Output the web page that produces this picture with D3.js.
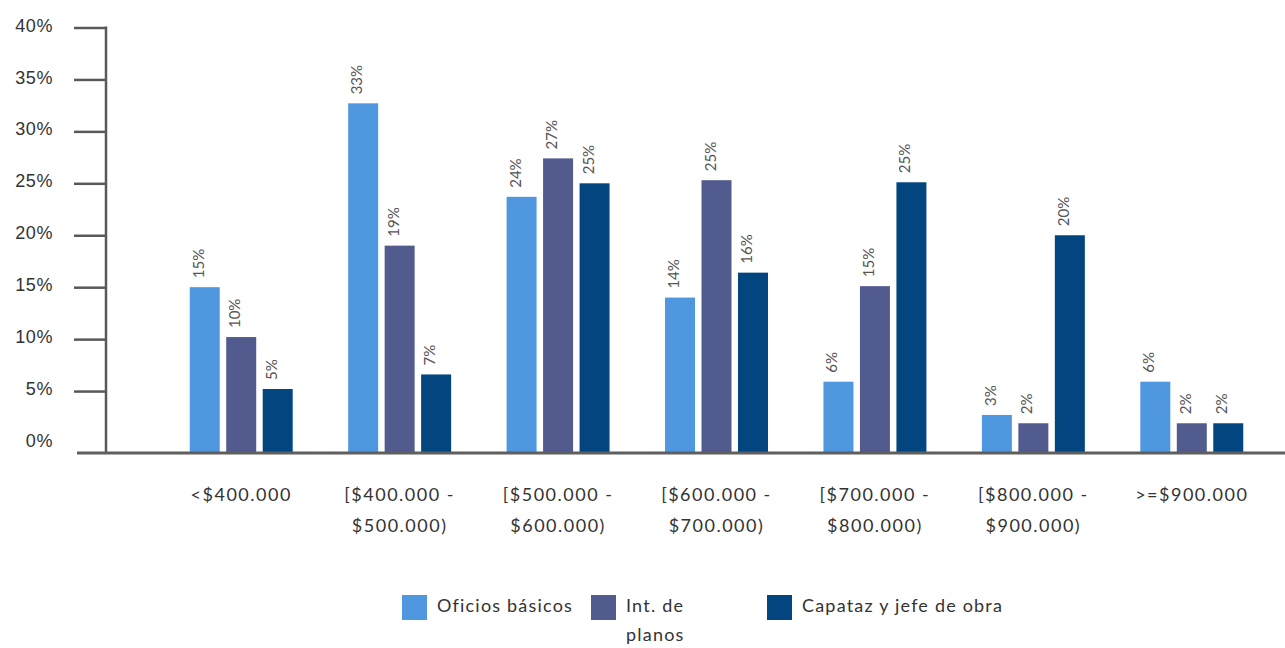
<!DOCTYPE html>
<html>
<head>
<meta charset="utf-8">
<script src="https://cdn.jsdelivr.net/npm/d3@7/dist/d3.min.js"></script>
<style>
  html, body { margin: 0; padding: 0; background: #ffffff; }
  svg { display: block; font-family: "Lato", "Open Sans", sans-serif; }
</style>
</head>
<body>
<svg id="chart" width="1285" height="648"></svg>
<script>
// Salary ranges (CLP) and share of each job group in every range, in percent
const categories = [
  "<$400.000",
  "[$400.000 - $500.000)",
  "[$500.000 - $600.000)",
  "[$600.000 - $700.000)",
  "[$700.000 - $800.000)",
  "[$800.000 - $900.000)",
  ">=$900.000"
];
const seriesNames = ["Oficios básicos", "Int. de planos", "Capataz y jefe de obra"];
const oficiosBasicos = [15.0, 32.7, 23.7, 14.0, 5.9, 2.7, 5.9];
const intDePlanos    = [10.2, 19.0, 27.4, 25.3, 15.1, 1.9, 1.9];
const capatazJefe    = [5.2, 6.6, 25.0, 16.4, 25.1, 20.0, 1.9];
const yTicks = [0, 5, 10, 15, 20, 25, 30, 35, 40];

const seriesValues = [oficiosBasicos, intDePlanos, capatazJefe];
const colors = ["#4f97de", "#525b8e", "#03467f"];

const svg = d3.select("#chart");
const baseline = 453;

const y = d3.scaleLinear().domain([0, 40]).range([443, 27.5]);
const x0 = d3.scaleBand().domain(categories).range([162, 1271]).padding(0);
const x1 = d3.scaleBand().domain(seriesNames).range([0, x0.bandwidth()])
  .paddingInner(0.178).paddingOuter(0.76);
const color = d3.scaleOrdinal().domain(seriesNames).range(colors);

// Y axis with outward ticks
const yAxis = d3.axisLeft(y)
  .tickValues(yTicks)
  .tickSize(32)
  .tickPadding(21)
  .tickFormat(d => d + "%");

const gy = svg.append("g").attr("transform", "translate(106,0)").call(yAxis);
gy.select(".domain").remove();
gy.selectAll(".tick line")
  .attr("stroke", "#595959")
  .attr("stroke-width", 2.5)
  .filter(d => d === 0).remove();
gy.selectAll(".tick text")
  .attr("fill", "#333")
  .attr("dy", "0.2em")
  .style("font-size", "18px")
  .style("letter-spacing", "0.6px");

svg.append("line")
  .attr("x1", 106).attr("x2", 106)
  .attr("y1", y(40) - 1).attr("y2", baseline)
  .attr("stroke", "#595959").attr("stroke-width", 2.5);

// Bars
const rows = categories.map((c, i) => ({
  category: c,
  values: seriesNames.map((s, j) => ({ series: s, value: seriesValues[j][i] }))
}));

const groups = svg.append("g").selectAll("g")
  .data(rows).join("g")
  .attr("transform", d => `translate(${x0(d.category)},0)`);

groups.selectAll("rect")
  .data(d => d.values).join("rect")
  .attr("x", d => x1(d.series))
  .attr("y", d => y(d.value))
  .attr("width", x1.bandwidth())
  .attr("height", d => baseline - y(d.value))
  .attr("fill", d => color(d.series));

const fmt = d3.format(".0f");
groups.selectAll("text.value")
  .data(d => d.values).join("text")
  .attr("class", "value")
  .attr("transform", d => `translate(${x1(d.series) + x1.bandwidth() / 2 - 1},${y(d.value) - 9}) rotate(-90)`)
  .attr("text-anchor", "start")
  .attr("fill", "#555")
  .style("font-size", "15px")
  .text(d => fmt(d.value) + "%");

// X baseline
svg.append("line")
  .attr("x1", 77).attr("x2", 1285)
  .attr("y1", baseline).attr("y2", baseline)
  .attr("stroke", "#5f5f5f").attr("stroke-width", 3);

// Category labels (two lines for ranges)
const catLabels = svg.append("g").selectAll("text")
  .data(categories).join("text")
  .attr("x", d => x0(d) + x0.bandwidth() / 2)
  .attr("y", 501)
  .attr("text-anchor", "middle")
  .attr("fill", "#333")
  .style("font-size", "18px")
  .style("letter-spacing", "1.5px");

catLabels.selectAll("tspan")
  .data(d => d.split(/(?<=-) /))
  .join("tspan")
  .attr("x", function () { return d3.select(this.parentNode).attr("x"); })
  .attr("dy", (d, i) => i === 0 ? 0 : 31)
  .text(d => d);

// Legend
const legendX = [402, 591, 767];
const legendWrap = [220, 80, 300];
const legend = svg.append("g").selectAll("g")
  .data(seriesNames).join("g")
  .attr("transform", (d, i) => `translate(${legendX[i]},595)`);

legend.append("rect")
  .attr("width", 25).attr("height", 25)
  .attr("fill", d => color(d));

legend.each(function (name, i) {
  const t = d3.select(this).append("text")
    .attr("x", 35).attr("y", 17)
    .attr("fill", "#333")
    .style("font-size", "18px")
    .style("letter-spacing", "1.2px");
  const words = name.split(" ");
  let line = [];
  let tspan = t.append("tspan").attr("x", 35).attr("dy", 0);
  words.forEach(w => {
    line.push(w);
    tspan.text(line.join(" "));
    if (tspan.node().getComputedTextLength() > legendWrap[i] && line.length > 1) {
      line.pop();
      tspan.text(line.join(" "));
      line = [w];
      tspan = t.append("tspan").attr("x", 35).attr("dy", 29).text(w);
    }
  });
});
</script>
</body>
</html>
